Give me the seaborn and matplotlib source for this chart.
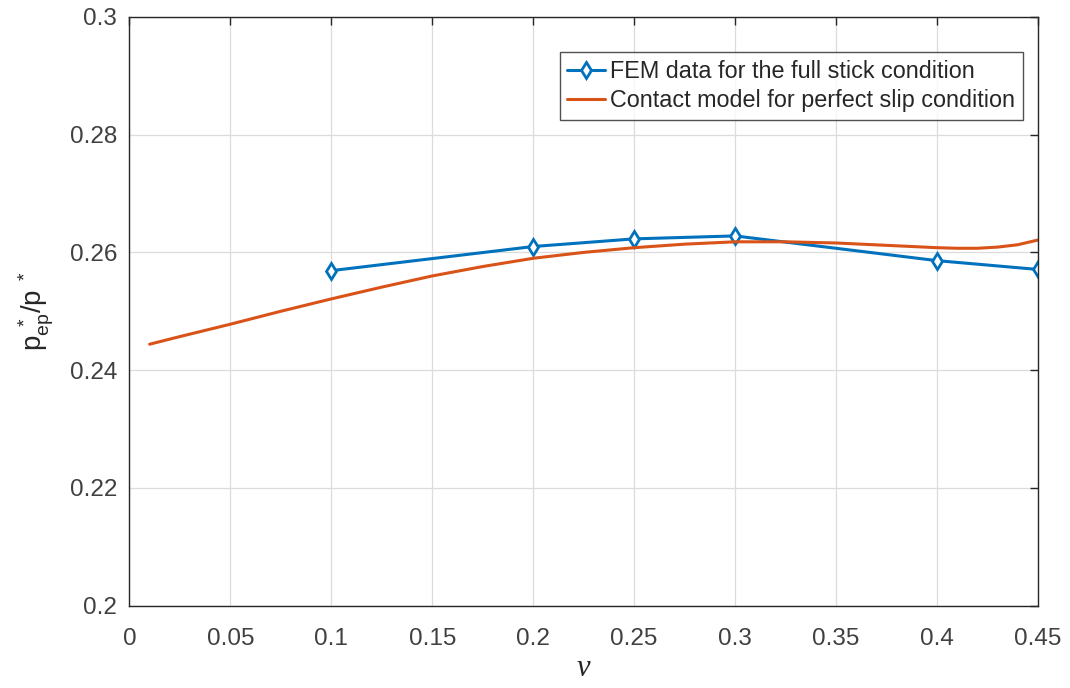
import numpy as np
import pandas as pd
import matplotlib
matplotlib.use("Agg")
import matplotlib.pyplot as plt
import seaborn as sns

# FEM data (full stick)
fem_nu = [0.1, 0.2, 0.25, 0.3, 0.4, 0.45]
fem_p = [0.2569, 0.2610, 0.2623, 0.2628, 0.2586, 0.2571]

# Contact model (perfect slip)
model_nu = [0.01, 0.025, 0.05, 0.075, 0.1, 0.125, 0.15, 0.175, 0.2, 0.225, 0.25,
            0.275, 0.3, 0.325, 0.35, 0.375, 0.4, 0.41, 0.42, 0.43, 0.44, 0.45]
model_p = [0.2444, 0.2457, 0.2478, 0.2500, 0.2521, 0.2541, 0.2560, 0.2576, 0.2590,
           0.2600, 0.2608, 0.2614, 0.2618, 0.2618, 0.2616, 0.2612, 0.2608, 0.2607,
           0.2607, 0.2609, 0.2613, 0.2621]

xticks = [0, 0.05, 0.1, 0.15, 0.2, 0.25, 0.3, 0.35, 0.4, 0.45]
xticklabels = ["0", "0.05", "0.1", "0.15", "0.2", "0.25", "0.3", "0.35", "0.4", "0.45"]
yticks = [0.2, 0.22, 0.24, 0.26, 0.28, 0.3]
yticklabels = ["0.2", "0.22", "0.24", "0.26", "0.28", "0.3"]

sns.set_theme(style="white")
plt.rcParams['font.family'] = ['Liberation Sans', 'DejaVu Sans']
plt.rcParams['mathtext.fontset'] = 'custom'
plt.rcParams['mathtext.rm'] = 'Liberation Sans'
plt.rcParams['mathtext.it'] = 'Liberation Sans'

fig = plt.figure(figsize=(10.7, 6.88), dpi=100)
ax = fig.add_axes([0.121, 0.1199, 0.849, 0.8554])

fem_df = pd.DataFrame({"nu": fem_nu, "p": fem_p})
model_df = pd.DataFrame({"nu": model_nu, "p": model_p})

sns.lineplot(data=fem_df, x="nu", y="p", ax=ax, color="#0072BD", linewidth=2.2,
             marker="d", markersize=8, markerfacecolor="white",
             markeredgecolor="#0072BD", markeredgewidth=2,
             label="FEM data for the full stick condition")
sns.lineplot(data=model_df, x="nu", y="p", ax=ax, color="#D95319", linewidth=2.2,
             label="Contact model for perfect slip condition")

ax.set_xlim(0, 0.45)
ax.set_ylim(0.2, 0.3)
ax.set_xticks(xticks)
ax.set_xticklabels(xticklabels)
ax.set_yticks(yticks)
ax.set_yticklabels(yticklabels)
ax.tick_params(axis='both', which='both', direction='in', length=6, width=1,
               labelsize=17.5, colors='#262626', top=True, right=True,
               labelcolor='#404040', pad=9)
ax.tick_params(axis='x', pad=16)
ax.grid(True, color='#dcdcdc', linewidth=0.9)
for s in ax.spines.values():
    s.set_visible(True)
    s.set_color('#262626')
    s.set_linewidth(1.0)

ax.set_xlabel('ν', fontsize=22, family='Liberation Serif', style='italic',
              color='#262626', labelpad=3)
ax.set_ylabel(r'$\mathrm{p^{\ *}_{ep}/p^{\ *}}$', fontsize=20, color='#262626', labelpad=10)

leg = ax.legend(loc='upper right', bbox_to_anchor=(0.9835, 0.94), fontsize=16.8,
                frameon=True, fancybox=False, edgecolor='#262626',
                handlelength=1.6, handletextpad=0.25, borderpad=0.32,
                labelspacing=0.28, borderaxespad=0)
for t in leg.get_texts():
    t.set_color('#262626')
leg.get_frame().set_linewidth(1.0)

fig.savefig("out.png", dpi=100)
